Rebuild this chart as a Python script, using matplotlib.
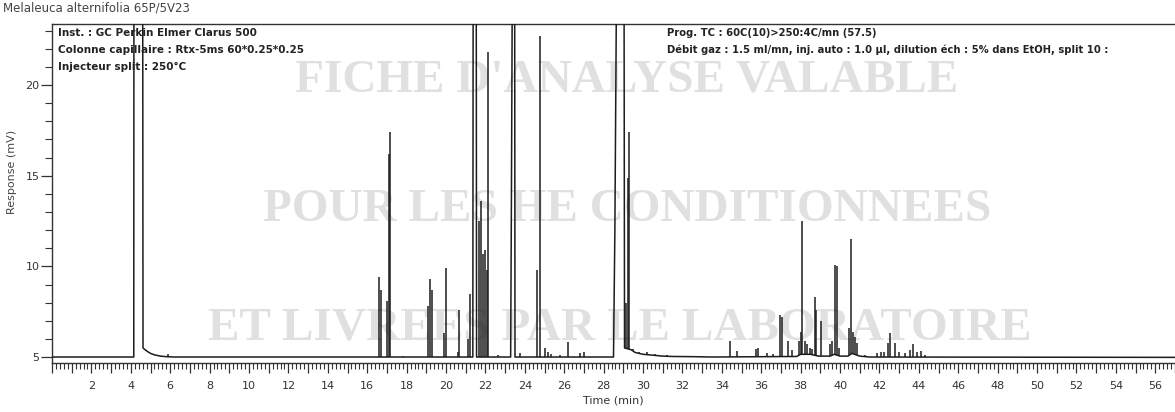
import numpy as np
import matplotlib.pyplot as plt
from matplotlib.ticker import MultipleLocator, FuncFormatter

# trace skeleton: baseline drift, tails and off-scale (30 mV) overloaded peaks (min, mV)
base_t = [0.0, 4.15, 4.16, 4.60, 4.62, 4.7, 4.85, 5.0, 5.2, 5.5, 5.8, 6.2,
          21.36, 21.38, 21.53, 21.55, 23.28, 23.32, 23.38, 23.48, 23.50,
          28.50, 28.57, 28.68, 29.03, 29.06, 29.4, 29.6,
          30.0, 30.5, 31.0, 31.5, 32.5, 33.5, 37.8, 38.0, 38.5, 38.9, 39.5, 39.7, 40.0,
          40.4, 40.6, 41.0, 41.5, 57.5]
base_y = [5.0, 5.0, 30, 30, 5.5, 5.42, 5.3, 5.2, 5.12, 5.05, 5.02, 5.0,
          5.0, 30, 30, 5.0, 5.0, 14.0, 30, 30, 5.0,
          5.0, 12.0, 30, 30, 5.5, 5.4, 5.25,
          5.15, 5.1, 5.05, 5.03, 5.02, 5.0, 5.03, 5.15, 5.15, 5.05, 5.05, 5.15, 5.05,
          5.05, 5.2, 5.05, 5.0, 4.98]

# peak apexes (min, mV)
peak_t = [5.9,
          16.61, 16.71, 17.02, 17.12, 17.17, 17.83,
          19.10, 19.20, 19.30, 19.91, 20.01, 20.62, 20.67,
          21.13, 21.21, 21.68, 21.79, 21.89, 21.99, 22.06, 22.12, 22.65,
          23.76, 24.62, 24.78, 25.03, 25.18, 25.33, 25.8, 26.2,
          26.81, 27.01, 29.14, 29.26, 29.31,
          29.5, 29.8, 30.2, 30.6, 31.2, 31.7, 32.2, 33.0,
          34.42, 34.77, 35.73, 35.83, 36.3, 36.6, 36.96, 37.06, 37.36, 37.56,
          37.92, 38.02, 38.07, 38.22, 38.32, 38.47, 38.58, 38.73, 38.78, 39.03,
          39.49, 39.59, 39.74, 39.84, 39.95, 40.45, 40.55, 40.66, 40.76, 40.86,
          41.27, 41.88, 42.08, 42.23, 42.43, 42.53, 42.79, 42.99,
          43.29, 43.55, 43.70, 43.9, 44.1, 44.3]
peak_h = [5.15,
          9.4, 8.7, 8.1, 16.2, 17.4, 5.08,
          7.8, 9.3, 8.7, 6.3, 9.9, 5.3, 7.6,
          6.0, 8.5, 12.5, 13.6, 10.7, 10.9, 9.8, 21.8, 5.1,
          5.2, 9.8, 22.7, 5.5, 5.3, 5.15, 5.1, 5.85,
          5.2, 5.3, 8.0, 14.9, 17.4,
          5.45, 5.3, 5.25, 5.15, 5.1, 5.08, 5.08, 5.05,
          5.9, 5.35, 5.45, 5.5, 5.2, 5.15, 7.3, 7.2, 5.9, 5.4,
          5.9, 6.4, 12.5, 5.9, 5.7, 5.5, 5.45, 8.3, 7.6, 7.0,
          5.7, 5.9, 10.1, 10.0, 5.5, 6.6, 11.5, 6.4, 6.1, 5.8,
          5.1, 5.2, 5.3, 5.25, 5.8, 6.3, 5.8, 5.3,
          5.2, 5.4, 5.7, 5.3, 5.35, 5.1]

title_txt = "Melaleuca alternifolia 65P/5V23"
info_left = ["Inst. : GC Perkin Elmer Clarus 500",
             "Colonne capillaire : Rtx-5ms 60*0.25*0.25",
             "Injecteur split : 250°C"]
info_right = ["Prog. TC : 60C(10)>250:4C/mn (57.5)",
              "Débit gaz : 1.5 ml/mn, inj. auto : 1.0 µl, dilution éch : 5% dans EtOH, split 10 :"]
stamp = ["FICHE D'ANALYSE VALABLE",
         "POUR LES HE CONDITIONNEES",
         "ET LIVREES PAR LE LABORATOIRE"]

W, H = 1175, 412
fig = plt.figure(figsize=(W / 100, H / 100), dpi=100)
ax = fig.add_axes([52 / W, 1 - 363 / H, 1 - 52 / W, (363 - 24) / H])
ax.patch.set_alpha(0)
ax.set_zorder(2)

line_c = "#1c1c1c"
ax.plot(base_t, base_y, color=line_c, lw=1.1, zorder=3)
bottoms = np.interp(peak_t, base_t, base_y)
ax.vlines(peak_t, bottoms, peak_h, color=line_c, lw=1.1, zorder=3)

ax.set_xlim(0, 57.0)
ax.set_ylim(4.67, 23.37)

ax.spines["right"].set_visible(False)
for s in ["left", "bottom", "top"]:
    ax.spines[s].set_color("#333333")
    ax.spines[s].set_linewidth(1.0)

ax.xaxis.set_major_locator(MultipleLocator(1))
ax.xaxis.set_minor_locator(MultipleLocator(0.2))
ax.xaxis.set_major_formatter(FuncFormatter(lambda v, p: "%d" % v if int(round(v)) % 2 == 0 and v > 0 else ""))
ax.yaxis.set_major_locator(MultipleLocator(5))
ax.yaxis.set_minor_locator(MultipleLocator(1))
ax.tick_params(axis="x", which="major", length=7, width=0.9, colors="#333333", labelsize=8, pad=6)
ax.tick_params(axis="x", which="minor", length=4, width=0.8, colors="#333333")
ax.tick_params(axis="y", which="major", length=8, width=0.9, colors="#333333", labelsize=8, pad=1)
ax.tick_params(axis="y", which="minor", length=5, width=0.8, colors="#333333")

ax.set_xlabel("Time (min)", fontsize=8, color="#333333", labelpad=3)
fig.text(12 / W, 1 - 172 / H, "Response (mV)", rotation=90, fontsize=8,
         color="#444444", ha="center", va="center")

# watermark behind the trace
for txt, yy, xx in zip(stamp, [80, 210, 328], [627, 627, 620]):
    fig.text(xx / W, 1 - yy / H, txt, fontsize=34, family="Liberation Serif",
             weight="bold", color="#e0e0e0", ha="center", va="center", zorder=0)

fig.text(3 / W, 1 - 8 / H, title_txt, fontsize=8.5, color="#444444", va="center")
for i, t in enumerate(info_left):
    fig.text(58 / W, 1 - (33 + 17 * i) / H, t, fontsize=7.5, weight="bold",
             color="#222222", va="center", zorder=5)
for i, t in enumerate(info_right):
    fig.text(667 / W, 1 - (33 + 17 * i) / H, t, fontsize=7.2, weight="bold",
             color="#222222", va="center", zorder=5)

fig.savefig("out.png", dpi=100)
